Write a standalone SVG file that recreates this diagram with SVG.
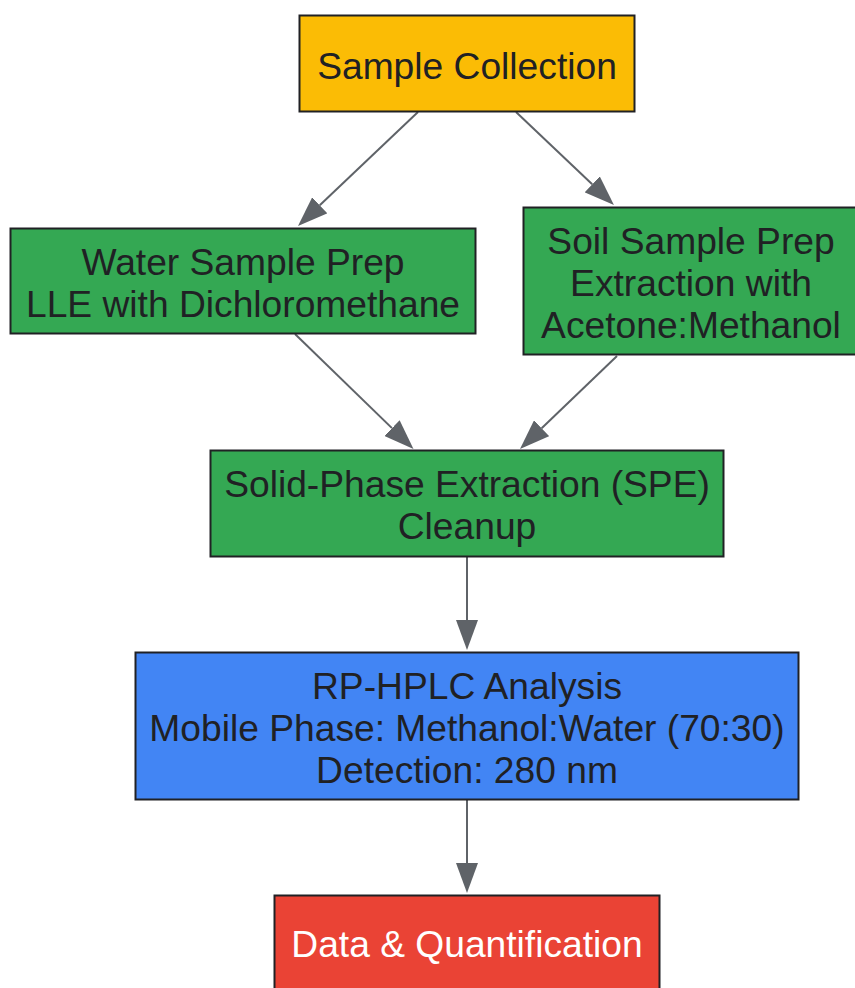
<svg xmlns="http://www.w3.org/2000/svg" width="855" height="988" viewBox="0 0 855 988">
  <style>
    .box { stroke: #202124; stroke-width: 2; }
    .lbl { font-family: "Liberation Sans", Arial, sans-serif; font-size: 37.2px; fill: #202124; text-anchor: middle; }
    .lbl-w { fill: #ffffff; }
    .edge { stroke: #5f6368; stroke-width: 2; fill: none; }
  </style>
  <defs>
    <marker id="arrow" markerUnits="userSpaceOnUse" markerWidth="30" markerHeight="22" refX="0" refY="11" orient="auto">
      <path d="M0,0 L30,11 L0,22 z" fill="#5f6368"/>
    </marker>
  </defs>
  <rect width="855" height="988" fill="#ffffff"/>

  <g id="connectors">
    <line class="edge" x1="418" y1="112" x2="319.75" y2="205.3" marker-end="url(#arrow)"/>
    <line class="edge" x1="516" y1="112" x2="592.2" y2="184.35" marker-end="url(#arrow)"/>
    <line class="edge" x1="295" y1="334" x2="391.97" y2="428.1" marker-end="url(#arrow)"/>
    <line class="edge" x1="617" y1="356" x2="541.65" y2="428.24" marker-end="url(#arrow)"/>
    <line class="edge" x1="467" y1="557" x2="467" y2="620" marker-end="url(#arrow)"/>
    <line class="edge" x1="467" y1="800" x2="467" y2="863" marker-end="url(#arrow)"/>
  </g>

  <g id="sample-collection">
    <rect class="box" x="299.5" y="15.5" width="335" height="96" fill="#FBBC05"/>
    <text class="lbl" x="467" y="79">Sample Collection</text>
  </g>

  <g id="water-prep">
    <rect class="box" x="10.5" y="228.5" width="465" height="105" fill="#34A853"/>
    <text class="lbl" x="243" y="275">Water Sample Prep</text>
    <text class="lbl" x="243" y="317">LLE with Dichloromethane</text>
  </g>

  <g id="soil-prep">
    <rect class="box" x="523.5" y="207.5" width="336" height="147" fill="#34A853"/>
    <text class="lbl" x="691" y="254">Soil Sample Prep</text>
    <text class="lbl" x="691" y="296">Extraction with</text>
    <text class="lbl" x="691" y="338">Acetone:Methanol</text>
  </g>

  <g id="spe-cleanup">
    <rect class="box" x="210.5" y="450.5" width="513" height="106" fill="#34A853"/>
    <text class="lbl" x="467" y="497">Solid-Phase Extraction (SPE)</text>
    <text class="lbl" x="467" y="539">Cleanup</text>
  </g>

  <g id="hplc">
    <rect class="box" x="135.5" y="652.5" width="663" height="147" fill="#4285F4"/>
    <text class="lbl" x="467" y="699">RP-HPLC Analysis</text>
    <text class="lbl" x="467" y="741">Mobile Phase: Methanol:Water (70:30)</text>
    <text class="lbl" x="467" y="783">Detection: 280 nm</text>
  </g>

  <g id="data-quant">
    <rect class="box" x="274.5" y="895.5" width="385" height="100" fill="#EA4335"/>
    <text class="lbl lbl-w" x="467" y="957">Data &amp; Quantification</text>
  </g>
</svg>
